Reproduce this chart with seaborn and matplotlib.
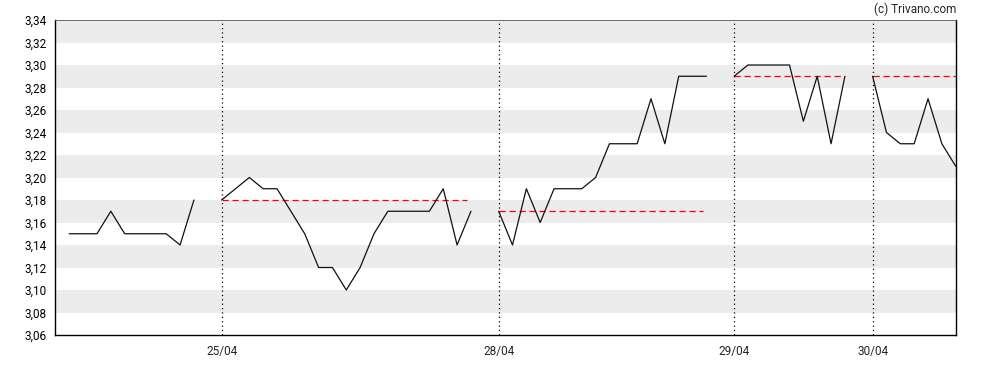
import matplotlib
matplotlib.use("Agg")
import matplotlib.pyplot as plt
import seaborn as sns
import numpy as np
import pandas as pd

# ---- data ----
day_labels = ["24/04", "25/04", "28/04", "29/04", "30/04"]
day1 = [3.15, 3.15, 3.15, 3.17, 3.15, 3.15, 3.15, 3.15, 3.14, 3.18]
day2 = [3.18, 3.19, 3.20, 3.19, 3.19, 3.17, 3.15, 3.12, 3.12, 3.10,
        3.12, 3.15, 3.17, 3.17, 3.17, 3.17, 3.19, 3.14, 3.17]
day3 = [3.17, 3.14, 3.19, 3.16, 3.19, 3.19, 3.19, 3.20, 3.23, 3.23,
        3.23, 3.27, 3.23, 3.29, 3.29, 3.29]
day4 = [3.29, 3.30, 3.30, 3.30, 3.30, 3.25, 3.29, 3.23, 3.29]
day5 = [3.29, 3.24, 3.23, 3.23, 3.27, 3.23, 3.21]
prev_close = [None, 3.18, 3.17, 3.29, 3.29]
y_ticks = [3.06, 3.08, 3.10, 3.12, 3.14, 3.16, 3.18, 3.20, 3.22, 3.24,
           3.26, 3.28, 3.30, 3.32, 3.34]

days = [day1, day2, day3, day4, day5]
GAP = 2

rows = []
start = 0
starts, ends = [], []
for d, vals in enumerate(days):
    starts.append(start)
    for k, v in enumerate(vals):
        rows.append({"day": d, "x": start + k, "price": v})
    ends.append(start + len(vals) - 1)
    start = start + len(vals) - 1 + GAP
df = pd.DataFrame(rows)

sns.set_style("white")
plt.rcParams["font.family"] = ["Roboto", "DejaVu Sans"]

fig = plt.figure(figsize=(9.88, 3.70), dpi=100)
ax = fig.add_axes([55 / 988, 35 / 370, (956 - 55) / 988, (335 - 20) / 370])

ymin, ymax = 3.06, 3.34
xmax = ends[-1] + 0.02
# alternating bands
for i, lo in enumerate(y_ticks[:-1]):
    if i % 2 == 1:
        ax.axhspan(lo, y_ticks[i + 1], color="#ececec", lw=0, zorder=0)

for d in range(len(days)):
    sub = df[df["day"] == d]
    sns.lineplot(data=sub, x="x", y="price", ax=ax, color="#111111",
                 lw=0.9, zorder=3, legend=False, estimator=None)
    if prev_close[d] is not None:
        x_end = xmax if d == len(days) - 1 else ends[d] - 0.25
        ax.hlines(prev_close[d], starts[d], x_end, colors="#ff0000",
                  linestyles=(0, (5, 3)), lw=0.9, zorder=2)
        ax.axvline(starts[d], color="#000000", lw=0.9,
                   linestyle=(0, (1, 2.5)), zorder=1)

ax.set_xlim(-1.03, xmax)
ax.set_ylim(ymin, ymax)
ax.set_yticks(y_ticks)
ax.set_yticklabels([f"{v:.2f}".replace(".", ",") for v in y_ticks])
ax.set_xticks(starts[1:])
ax.set_xticklabels(day_labels[1:])
ax.set_xlabel("")
ax.set_ylabel("")
ax.tick_params(axis="y", length=4, width=0.8, labelsize=8.5, colors="black", pad=2)
ax.tick_params(axis="x", length=2, width=0.6, labelsize=8.5, pad=5)
for s in ["left", "bottom", "right"]:
    ax.spines[s].set_color("black")
    ax.spines[s].set_linewidth(1.0)
ax.spines["top"].set_color("#555555")
ax.spines["top"].set_linewidth(0.6)

fig.text(956 / 988, 1 - 9 / 370, "(c) Trivano.com", ha="right", va="center",
         fontsize=8.5)

fig.savefig("out.png", dpi=100)
